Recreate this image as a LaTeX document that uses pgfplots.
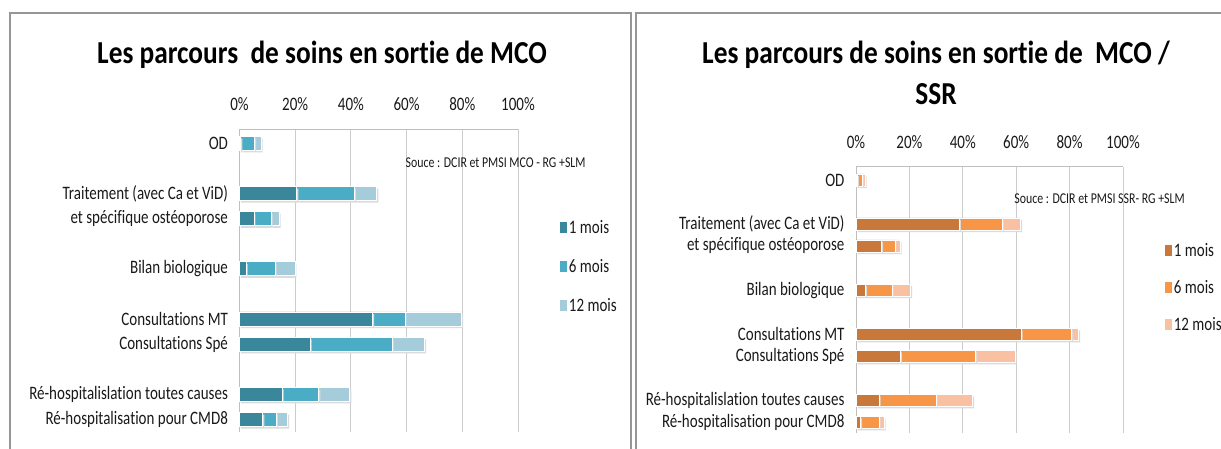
\documentclass[border=0pt]{standalone}
\usepackage{fontspec}
\setmainfont[FakeStretch=0.79, Ligatures=NoCommon]{Carlito}
\newfontfamily\titlefont[FakeStretch=0.855, Ligatures=NoCommon]{Carlito}
\usepackage{pgfplots}
\pgfplotsset{compat=1.18}

\definecolor{tealA}{RGB}{58,135,156}
\definecolor{tealB}{RGB}{75,172,198}
\definecolor{tealC}{RGB}{165,204,218}
\definecolor{oraA}{RGB}{200,120,58}
\definecolor{oraB}{RGB}{247,150,70}
\definecolor{oraC}{RGB}{250,192,162}
\definecolor{framegray}{RGB}{150,150,150}

\pgfplotsset{
 shad/.style={forget plot, draw=white, line width=0.8pt,
     preaction={fill=black!14, draw=none, transform canvas={xshift=1.5pt, yshift=-2.2pt}}},
 mystyle/.style={
  xbar stacked, scale only axis, clip=false,
  xmin=0, xmax=100,
  xtick={0,20,...,100}, xticklabels={0\%,20\%,40\%,60\%,80\%,100\%},
  ytick={0,1,3,4,6,8,9,11},
  yticklabels={R\'e-hospitalisation pour CMD8, R\'e-hospitalislation toutes causes, Consultations Sp\'e, Consultations MT, Bilan biologique, et sp\'ecifique ost\'eoporose, Traitement (avec Ca et ViD), OD},
  xmajorgrids, grid style={draw=black!20, line width=0.9pt},
  axis x line*=top, axis y line*=left,
  axis line style={draw=black!25, line width=0.9pt},
  major tick length=0pt,
  tick label style={font=\fontsize{19}{19}\selectfont, text=black!90},
  xticklabel style={yshift=14.5pt},
  yticklabel style={xshift=-8pt},
  legend style={draw=none, fill=none, anchor=west, inner sep=0pt,
     font=\fontsize{19}{19}\selectfont, text=black!90,
     nodes={inner sep=1.5pt, text height=12pt, text depth=0pt}},
  legend cell align=left,
  legend image code/.code={\fill[#1,draw=none] (0pt,-5.5pt) rectangle (7.5pt,5.5pt);},
 }
}

\begin{document}
\begin{tikzpicture}[x=1pt,y=1pt]
\path[use as bounding box] (0,0) rectangle (1221,449);
\draw[framegray, line width=1.1pt] (10,0) -- (10,436) -- (631,436) -- (631,0);
\draw[framegray, line width=1.1pt] (636,0) -- (636,436) -- (1221,436);

\node[anchor=base, font=\titlefont\bfseries\fontsize{32}{32}\selectfont] at (322,385.7) {Les parcours\ \ de soins en sortie de MCO};
\node[anchor=base, font=\titlefont\bfseries\fontsize{32}{32}\selectfont] at (936,385.7) {Les parcours de soins en sortie de\ \ MCO /};
\node[anchor=base, font=\titlefont\bfseries\fontsize{32}{32}\selectfont] at (936,344) {SSR};

\begin{axis}[mystyle, at={(239.5pt,17.3pt)}, anchor=south west,
  width=278.5pt, height=302.7pt, ymin=-0.49, ymax=11.57, bar width=14pt,
  legend style={at={(1.150,0.547)}, row sep=24pt}]
\addplot[shad, fill=tealA] coordinates {(0.5,11) (20.6,9) (5.2,8) (2.4,6) (47.8,4) (25.4,3) (15.3,1) (8.4,0)};
\addplot[shad, fill=tealB] coordinates {(4.9,11) (20.7,9) (6.2,8) (10.4,6) (11.6,4) (29.4,3) (13.2,1) (4.8,0)};
\addplot[shad, fill=tealC] coordinates {(2.4,11) (8.0,9) (2.8,8) (7.1,6) (20.4,4) (11.7,3) (11.1,1) (4.1,0)};
\addlegendimage{fill=tealA, draw=none}
\addlegendimage{fill=tealB, draw=none}
\addlegendimage{fill=tealC, draw=none}
\legend{1 mois, 6 mois, 12 mois}
\node[anchor=west, font=\fontsize{15}{15}\selectfont, text=black!90] at (rel axis cs:0.584,0.888) {Souce : DCIR et PMSI MCO - RG +SLM};
\end{axis}

\begin{axis}[mystyle, at={(856pt,16pt)}, anchor=south west,
  width=267pt, height=266.3pt, ymin=-0.49, ymax=11.6, bar width=12pt,
  legend style={at={(1.156,0.545)}, row sep=22pt}]
\addplot[shad, fill=oraA] coordinates {(0.5,11) (38.7,9) (9.6,8) (3.6,6) (61.8,4) (16.7,3) (8.7,1) (1.7,0)};
\addplot[shad, fill=oraB] coordinates {(2.0,11) (16.1,9) (5.0,8) (9.9,6) (19.0,4) (28.2,3) (21.3,1) (7.0,0)};
\addplot[shad, fill=oraC] coordinates {(0.9,11) (6.9,9) (1.9,8) (7.0,6) (2.6,4) (14.7,3) (13.7,1) (1.8,0)};
\addlegendimage{fill=oraA, draw=none}
\addlegendimage{fill=oraB, draw=none}
\addlegendimage{fill=oraC, draw=none}
\legend{1 mois, 6 mois, 12 mois}
\node[anchor=west, font=\fontsize{15}{15}\selectfont, text=black!90] at (rel axis cs:0.58,0.88) {Souce : DCIR et PMSI SSR- RG +SLM};
\end{axis}
\end{tikzpicture}
\end{document}
